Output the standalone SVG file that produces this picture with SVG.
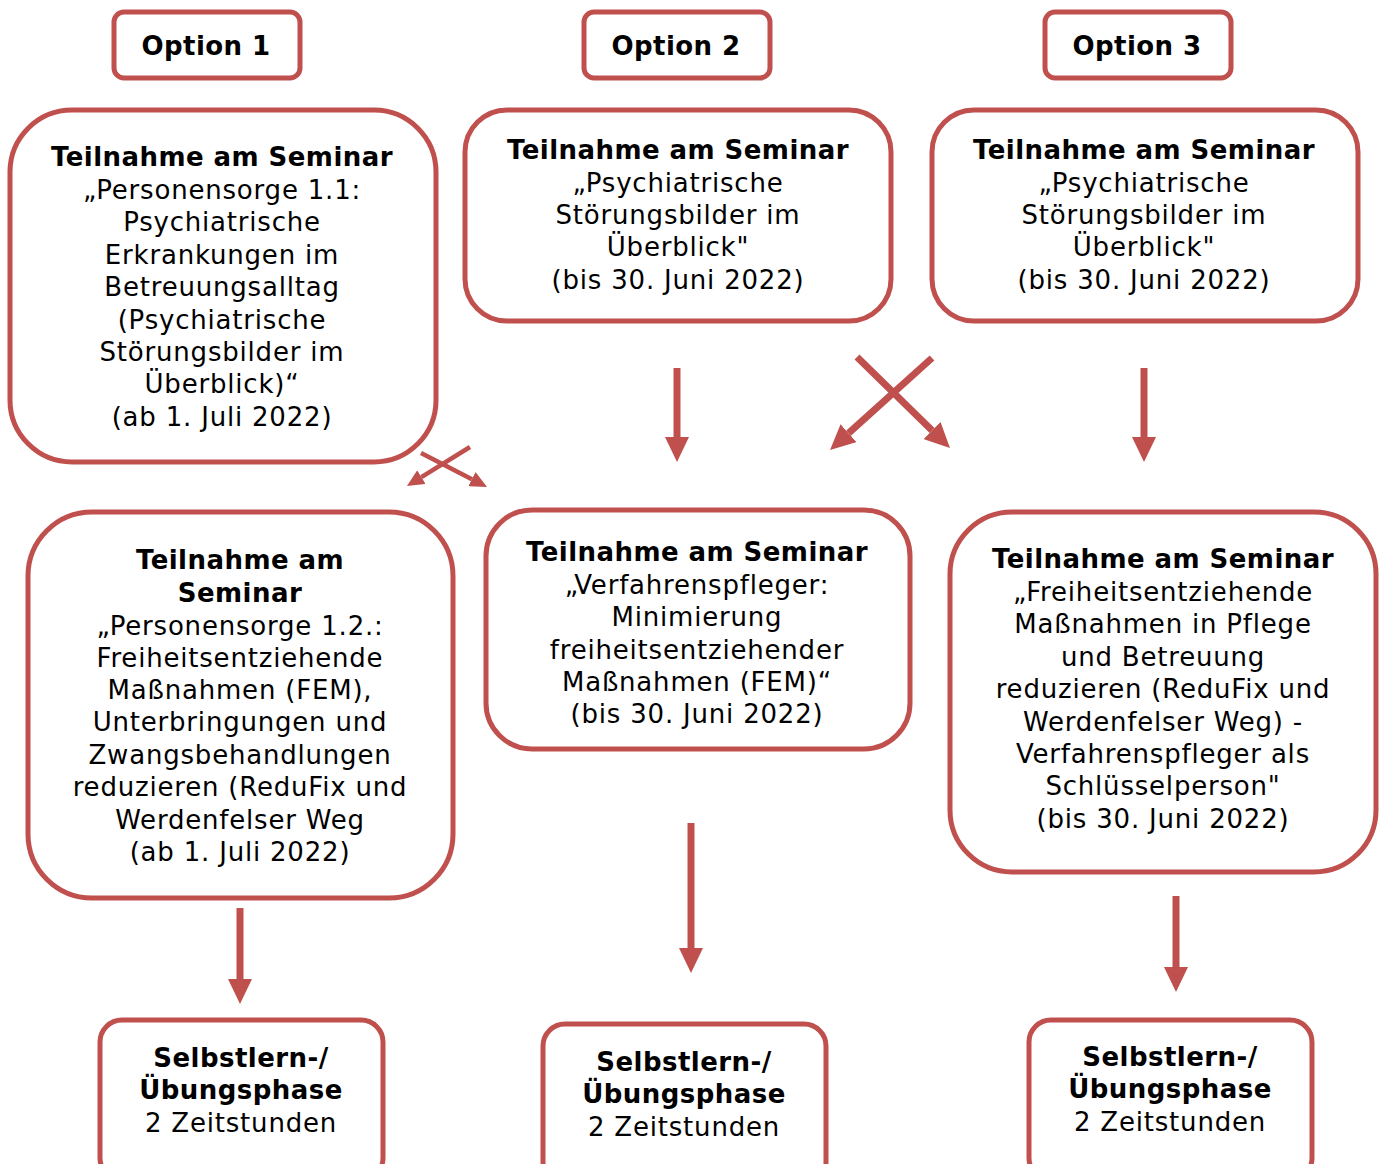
<svg xmlns="http://www.w3.org/2000/svg" width="1382" height="1164" viewBox="0 0 1382 1164">
<defs>
<style>
.box{fill:#fff;stroke:#C0504D;stroke-width:5}
.t{font-family:"DejaVu Sans","Verdana",sans-serif;font-size:26px;fill:#000;text-anchor:middle;letter-spacing:0.8px}
.b{font-weight:bold;letter-spacing:0.45px}
.arr{stroke:#C0504D;stroke-width:7;fill:none;marker-end:url(#ah)}
.arrs{stroke:#C0504D;stroke-width:4.5;fill:none;marker-end:url(#ahs)}
</style>
<marker id="ah" markerUnits="userSpaceOnUse" markerWidth="25" markerHeight="24" refX="0" refY="12" orient="auto" viewBox="0 0 25 24"><path d="M0,0 L25,12 L0,24 z" fill="#C0504D"/></marker>
<marker id="ahs" markerUnits="userSpaceOnUse" markerWidth="17" markerHeight="16" refX="0" refY="8" orient="auto" viewBox="0 0 17 16"><path d="M0,0 L17,8 L0,16 z" fill="#C0504D"/></marker>
</defs>
<rect width="1382" height="1164" fill="#fff"/>
<g id="connectors">
<line class="arr" x1="677" y1="368" x2="677" y2="437"/>
<line class="arr" x1="1144" y1="368" x2="1144" y2="437"/>
<line class="arr" x1="240" y1="908" x2="240" y2="979"/>
<line class="arr" x1="691" y1="823" x2="691" y2="948"/>
<line class="arr" x1="1176" y1="896" x2="1176" y2="967"/>
<line class="arr" x1="932" y1="358" x2="848.6" y2="433.2"/>
<line class="arr" x1="857" y1="357" x2="932.1" y2="430.5"/>
<line class="arrs" x1="470" y1="447" x2="421.4" y2="477.1"/>
<line class="arrs" x1="421" y1="453" x2="471.9" y2="479.2"/>
</g>
<g id="option1"><rect class="box" x="114" y="12" width="186" height="66" rx="10"/><text class="t b" x="206" y="55">Option 1</text></g>
<g id="option2"><rect class="box" x="584" y="12" width="186" height="66" rx="10"/><text class="t b" x="676" y="55">Option 2</text></g>
<g id="option3"><rect class="box" x="1045" y="12" width="186" height="66" rx="10"/><text class="t b" x="1137" y="55">Option 3</text></g>
<g id="seminar11"><rect class="box" x="10" y="110" width="426" height="352" rx="62"/>
<text class="t" x="222"><tspan class="b" x="222" y="166">Teilnahme am Seminar</tspan><tspan x="222" y="199">„Personensorge 1.1:</tspan><tspan x="222" y="231">Psychiatrische</tspan><tspan x="222" y="264">Erkrankungen im</tspan><tspan x="222" y="296">Betreuungsalltag</tspan><tspan x="222" y="329">(Psychiatrische</tspan><tspan x="222" y="361">Störungsbilder im</tspan><tspan x="222" y="393">Überblick)“</tspan><tspan x="222" y="426">(ab 1. Juli 2022)</tspan></text></g>
<g id="seminar2"><rect class="box" x="465" y="110" width="426" height="211" rx="42"/>
<text class="t" x="678"><tspan class="b" x="678" y="159">Teilnahme am Seminar</tspan><tspan x="678" y="192">„Psychiatrische</tspan><tspan x="678" y="224">Störungsbilder im</tspan><tspan x="678" y="256">Überblick"</tspan><tspan x="678" y="289">(bis 30. Juni 2022)</tspan></text></g>
<g id="seminar3"><rect class="box" x="932" y="110" width="426" height="211" rx="42"/>
<text class="t" x="1144"><tspan class="b" x="1144" y="159">Teilnahme am Seminar</tspan><tspan x="1144" y="192">„Psychiatrische</tspan><tspan x="1144" y="224">Störungsbilder im</tspan><tspan x="1144" y="256">Überblick"</tspan><tspan x="1144" y="289">(bis 30. Juni 2022)</tspan></text></g>
<g id="seminar12"><rect class="box" x="28" y="512" width="425" height="386" rx="64"/>
<text class="t" x="240"><tspan class="b" x="240" y="569">Teilnahme am</tspan><tspan class="b" x="240" y="602">Seminar</tspan><tspan x="240" y="635">„Personensorge 1.2.:</tspan><tspan x="240" y="667">Freiheitsentziehende</tspan><tspan x="240" y="699">Maßnahmen (FEM),</tspan><tspan x="240" y="731">Unterbringungen und</tspan><tspan x="240" y="764">Zwangsbehandlungen</tspan><tspan x="240" y="796">reduzieren (ReduFix und</tspan><tspan x="240" y="829">Werdenfelser Weg</tspan><tspan x="240" y="861">(ab 1. Juli 2022)</tspan></text></g>
<g id="seminarVP"><rect class="box" x="486" y="510" width="424" height="239" rx="46"/>
<text class="t" x="697"><tspan class="b" x="697" y="561">Teilnahme am Seminar</tspan><tspan x="697" y="594">„Verfahrenspfleger:</tspan><tspan x="697" y="626">Minimierung</tspan><tspan x="697" y="659">freiheitsentziehender</tspan><tspan x="697" y="691">Maßnahmen (FEM)“</tspan><tspan x="697" y="723">(bis 30. Juni 2022)</tspan></text></g>
<g id="seminarFEM"><rect class="box" x="950" y="512" width="426" height="360" rx="62"/>
<text class="t" x="1163"><tspan class="b" x="1163" y="568">Teilnahme am Seminar</tspan><tspan x="1163" y="601">„Freiheitsentziehende</tspan><tspan x="1163" y="633">Maßnahmen in Pflege</tspan><tspan x="1163" y="666">und Betreuung</tspan><tspan x="1163" y="698">reduzieren (ReduFix und</tspan><tspan x="1163" y="731">Werdenfelser Weg) -</tspan><tspan x="1163" y="763">Verfahrenspfleger als</tspan><tspan x="1163" y="795">Schlüsselperson"</tspan><tspan x="1163" y="828">(bis 30. Juni 2022)</tspan></text></g>
<g id="selbst1"><rect class="box" x="100" y="1020" width="283" height="160" rx="22"/>
<text class="t" x="241"><tspan class="b" x="241" y="1067">Selbstlern-/</tspan><tspan class="b" x="241" y="1099">Übungsphase</tspan><tspan x="241" y="1132">2 Zeitstunden</tspan></text></g>
<g id="selbst2"><rect class="box" x="543" y="1024" width="283" height="160" rx="22"/>
<text class="t" x="684"><tspan class="b" x="684" y="1071">Selbstlern-/</tspan><tspan class="b" x="684" y="1103">Übungsphase</tspan><tspan x="684" y="1136">2 Zeitstunden</tspan></text></g>
<g id="selbst3"><rect class="box" x="1029" y="1020" width="283" height="160" rx="22"/>
<text class="t" x="1170"><tspan class="b" x="1170" y="1066">Selbstlern-/</tspan><tspan class="b" x="1170" y="1098">Übungsphase</tspan><tspan x="1170" y="1131">2 Zeitstunden</tspan></text></g>
</svg>
